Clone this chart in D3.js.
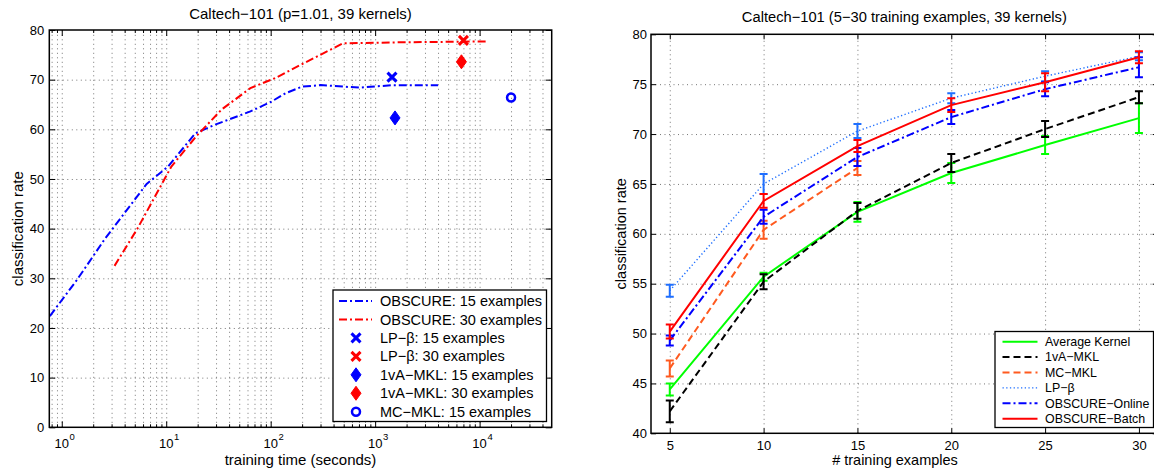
<!DOCTYPE html>
<html>
<head>
<meta charset="utf-8">
<script src="https://cdn.jsdelivr.net/npm/d3@7"></script>
<style>
  body { margin: 0; background: #fff; }
  svg { display: block; }
  text { font-family: "Liberation Sans", Arial, Helvetica, sans-serif; fill: #000; }
</style>
</head>
<body>
<svg id="fig" width="1154" height="473"></svg>
<script>
// ---------- Left panel: accuracy vs. training time (log scale) ----------
const obscure15Time = [0.77, 1.4, 2.6, 6.5, 10.4, 19, 29, 64, 100, 140, 200, 300, 700, 1500, 4000];
const obscure15Rate = [22.4, 29.7, 38.0, 49.0, 52.5, 59.2, 60.9, 63.6, 65.5, 67.3, 68.6, 68.9, 68.4, 68.9, 68.9];
const obscure30Time = [3.2, 5.3, 11.2, 19.2, 34, 64, 110, 207, 490, 1500, 12000];
const obscure30Rate = [32.5, 40.0, 52.5, 58.5, 64.0, 68.3, 70.3, 73.3, 77.3, 77.5, 77.7];

// single-point baselines: [time, rate]
const lpBeta15 = [1450, 70.5];
const lpBeta30 = [7000, 77.9];
const oneVsAll15 = [1550, 62.3];
const oneVsAll30 = [6700, 73.6];
const mcMkl15 = [20000, 66.4];

const leftTicksY = [0, 10, 20, 30, 40, 50, 60, 70, 80];
const leftDecades = [0, 1, 2, 3, 4];
const leftLegendLabels = [
  "OBSCURE: 15 examples", "OBSCURE: 30 examples",
  "LP\u2212\u03b2: 15 examples", "LP\u2212\u03b2: 30 examples",
  "1vA\u2212MKL: 15 examples", "1vA\u2212MKL: 30 examples",
  "MC\u2212MKL: 15 examples"
];

// ---------- Right panel: accuracy vs. number of training examples ----------
const trainSizes = [5, 10, 15, 20, 25, 30];
const avgKernel = [44.4, 55.7, 62.2, 66.1, 68.9, 71.6];
const avgKernelErr = [0.6, 0.4, 1.0, 1.0, 0.9, 1.5];
const oneVsAll = [42.2, 55.2, 62.3, 67.1, 70.5, 73.7];
const oneVsAllErr = [1.1, 0.75, 0.8, 0.9, 0.8, 0.6];
const mcSizes = [5, 10, 15];
const mcMkl = [46.5, 60.4, 66.6];
const mcMklErr = [0.8, 0.9, 0.7];
const lpBeta = [54.3, 65.0, 70.3, 73.6, 75.8, 77.8];
const lpBetaErr = [0.6, 1.0, 0.7, 0.5, 0.5, 0.4];
const obscureOnline = [49.3, 61.7, 67.7, 71.7, 74.5, 76.7];
const obscureOnlineErr = [0.5, 0.7, 0.9, 0.7, 0.7, 1.0];
const obscureBatch = [50.2, 63.3, 68.8, 72.9, 75.2, 77.7];
const obscureBatchErr = [0.7, 0.7, 0.6, 0.7, 0.9, 0.6];

const rightTicksY = [40, 45, 50, 55, 60, 65, 70, 75, 80];
const rightLegendLabels = ["Average Kernel", "1vA\u2212MKL", "MC\u2212MKL", "LP\u2212\u03b2", "OBSCURE\u2212Online", "OBSCURE\u2212Batch"];

// ---------- styling ----------
const BLUE = "#0000ff", RED = "#ff0000", GREEN = "#00ff00", BLACK = "#000000";
const ORANGE = "#ff5a1f", LIGHTBLUE = "#1f6fff";
const DASHDOT = "8,3,2,3";
const GRIDDASH = "1,3.5";
const GRIDCOLOR = "#777";

const svg = d3.select("#fig");

function cleanAxis(sel, size) {
  sel.select(".domain").remove();
  sel.selectAll(".tick line").attr("stroke", "#000").attr("stroke-width", 1);
  sel.selectAll(".tick text").attr("font-size", size).attr("fill", "#000")
     .attr("font-family", '"Liberation Sans", Arial, Helvetica, sans-serif');
}
function gridStyle(sel) {
  sel.select(".domain").remove();
  sel.selectAll(".tick line").attr("stroke", GRIDCOLOR)
     .attr("stroke-dasharray", GRIDDASH).attr("stroke-width", 1);
}

/* ===================== LEFT PANEL ===================== */
{
  const x = d3.scaleLog().domain([0.76, 49000]).range([49.3, 551.7]);
  const y = d3.scaleLinear().domain([0, 80]).range([427.3, 30]);
  const [x0, x1] = x.range(), [y0, y1] = y.range();
  const g = svg.append("g");

  // log grid values (major + minor)
  const gridX = [];
  for (let n = -1; n <= 4; n++) for (let k = 1; k <= 9; k++) {
    const v = k * Math.pow(10, n);
    if (v > x.domain()[0] && v < x.domain()[1]) gridX.push(v);
  }
  const majorX = leftDecades.map(n => Math.pow(10, n));
  const minorX = gridX.filter(v => !majorX.includes(v));

  // dotted grid
  g.append("g").attr("transform", `translate(0,${y0})`)
    .call(d3.axisBottom(x).tickValues(gridX).tickSize(-(y0 - y1)).tickFormat(""))
    .call(gridStyle);
  g.append("g").attr("transform", `translate(${x0},0)`)
    .call(d3.axisLeft(y).tickValues(leftTicksY.slice(1, -1)).tickSize(-(x1 - x0)).tickFormat(""))
    .call(gridStyle);

  // inward ticks on all sides
  g.append("g").attr("transform", `translate(0,${y0})`)
    .call(d3.axisBottom(x).tickValues(majorX).tickSize(-6).tickFormat("")).call(s => cleanAxis(s, 13));
  g.append("g").attr("transform", `translate(0,${y0})`)
    .call(d3.axisBottom(x).tickValues(minorX).tickSize(-3).tickFormat("")).call(s => cleanAxis(s, 13));
  g.append("g").attr("transform", `translate(0,${y1})`)
    .call(d3.axisTop(x).tickValues(majorX).tickSize(-6).tickFormat("")).call(s => cleanAxis(s, 13));
  g.append("g").attr("transform", `translate(0,${y1})`)
    .call(d3.axisTop(x).tickValues(minorX).tickSize(-3).tickFormat("")).call(s => cleanAxis(s, 13));
  g.append("g").attr("transform", `translate(${x0},0)`)
    .call(d3.axisLeft(y).tickValues(leftTicksY).tickSize(-6).tickPadding(5)).call(s => cleanAxis(s, 13));
  g.append("g").attr("transform", `translate(${x1},0)`)
    .call(d3.axisRight(y).tickValues(leftTicksY).tickSize(-6).tickFormat("")).call(s => cleanAxis(s, 13));

  // power-of-ten labels
  const pl = g.append("g").selectAll("g").data(leftDecades).join("g")
    .attr("transform", n => `translate(${x(Math.pow(10, n))},448)`);
  pl.append("text").attr("text-anchor", "middle").attr("font-size", 13).text("10");
  pl.append("text").attr("x", 7.8).attr("y", -8).attr("font-size", 9.5).text(n => n);

  // series lines
  const line = d3.line().x(d => x(d[0])).y(d => y(d[1]));
  g.append("path").datum(d3.zip(obscure15Time, obscure15Rate)).attr("d", line)
    .attr("fill", "none").attr("stroke", BLUE).attr("stroke-width", 2).attr("stroke-dasharray", DASHDOT);
  g.append("path").datum(d3.zip(obscure30Time, obscure30Rate)).attr("d", line)
    .attr("fill", "none").attr("stroke", RED).attr("stroke-width", 2).attr("stroke-dasharray", DASHDOT);

  // marker helpers
  const cross = (sel, cx, cy, c) => sel.append("path")
    .attr("d", `M${cx - 4.5},${cy - 4.5}L${cx + 4.5},${cy + 4.5}M${cx - 4.5},${cy + 4.5}L${cx + 4.5},${cy - 4.5}`)
    .attr("stroke", c).attr("stroke-width", 3).attr("fill", "none");
  const diamond = (sel, cx, cy, c) => sel.append("path")
    .attr("d", `M${cx},${cy - 7}L${cx + 5},${cy}L${cx},${cy + 7}L${cx - 5},${cy}Z`)
    .attr("fill", c).attr("stroke", c).attr("stroke-width", 1);
  const ring = (sel, cx, cy, c) => sel.append("circle").attr("cx", cx).attr("cy", cy).attr("r", 4)
    .attr("fill", "none").attr("stroke", c).attr("stroke-width", 2.5);

  cross(g, x(lpBeta15[0]), y(lpBeta15[1]), BLUE);
  cross(g, x(lpBeta30[0]), y(lpBeta30[1]), RED);
  diamond(g, x(oneVsAll15[0]), y(oneVsAll15[1]), BLUE);
  diamond(g, x(oneVsAll30[0]), y(oneVsAll30[1]), RED);
  ring(g, x(mcMkl15[0]), y(mcMkl15[1]), BLUE);

  // frame
  g.append("rect").attr("x", x0).attr("y", y1).attr("width", x1 - x0).attr("height", y0 - y1)
    .attr("fill", "none").attr("stroke", "#000").attr("stroke-width", 1.5);

  // legend
  const lg = g.append("g");
  lg.append("rect").attr("x", 333).attr("y", 290).attr("width", 213.5).attr("height", 131.5)
    .attr("fill", "#fff").attr("stroke", "#000").attr("stroke-width", 1.3);
  const rowY = i => 301 + i * 18.45;
  const mx = 356;
  lg.append("line").attr("x1", 339).attr("x2", 372).attr("y1", rowY(0)).attr("y2", rowY(0))
    .attr("stroke", BLUE).attr("stroke-width", 2).attr("stroke-dasharray", DASHDOT);
  lg.append("line").attr("x1", 339).attr("x2", 372).attr("y1", rowY(1)).attr("y2", rowY(1))
    .attr("stroke", RED).attr("stroke-width", 2).attr("stroke-dasharray", DASHDOT);
  cross(lg, mx, rowY(2), BLUE);
  cross(lg, mx, rowY(3), RED);
  diamond(lg, mx, rowY(4), BLUE);
  diamond(lg, mx, rowY(5), RED);
  ring(lg, mx, rowY(6), BLUE);
  lg.selectAll("text.lab").data(leftLegendLabels).join("text").attr("class", "lab")
    .attr("x", 380).attr("y", (d, i) => rowY(i)).attr("dy", "0.35em")
    .attr("font-size", 14.5).text(d => d);

  // titles
  g.append("text").attr("x", (x0 + x1) / 2).attr("y", 19).attr("text-anchor", "middle")
    .attr("font-size", 15).text("Caltech\u2212101 (p=1.01, 39 kernels)");
  g.append("text").attr("x", (x0 + x1) / 2).attr("y", 465).attr("text-anchor", "middle")
    .attr("font-size", 15).text("training time (seconds)");
  g.append("text").attr("transform", `translate(23,${(y0 + y1) / 2}) rotate(-90)`)
    .attr("text-anchor", "middle").attr("font-size", 15).text("classification rate");
}

/* ===================== RIGHT PANEL ===================== */
{
  const x = d3.scaleLinear().domain([4, 31]).range([651, 1157.7]);
  const y = d3.scaleLinear().domain([40, 80]).range([433.3, 34.3]);
  const [x0, x1] = x.range(), [y0, y1] = y.range();
  const g = svg.append("g");

  // dotted grid
  g.append("g").attr("transform", `translate(0,${y0})`)
    .call(d3.axisBottom(x).tickValues(trainSizes).tickSize(-(y0 - y1)).tickFormat(""))
    .call(gridStyle);
  g.append("g").attr("transform", `translate(${x0},0)`)
    .call(d3.axisLeft(y).tickValues(rightTicksY.slice(1, -1)).tickSize(-(x1 - x0)).tickFormat(""))
    .call(gridStyle);

  // ticks
  g.append("g").attr("transform", `translate(0,${y0})`)
    .call(d3.axisBottom(x).tickValues(trainSizes).tickSize(-5).tickPadding(7.5)).call(s => cleanAxis(s, 13));
  g.append("g").attr("transform", `translate(0,${y1})`)
    .call(d3.axisTop(x).tickValues(trainSizes).tickSize(-5).tickFormat("")).call(s => cleanAxis(s, 13));
  g.append("g").attr("transform", `translate(${x0},0)`)
    .call(d3.axisLeft(y).tickValues(rightTicksY).tickSize(-5).tickPadding(4)).call(s => cleanAxis(s, 13));
  g.append("g").attr("transform", `translate(${x1},0)`)
    .call(d3.axisRight(y).tickValues(rightTicksY).tickSize(-5).tickFormat("")).call(s => cleanAxis(s, 13));

  const series = [
    { xs: trainSizes, m: avgKernel, e: avgKernelErr, c: GREEN, w: 2, dash: null },
    { xs: trainSizes, m: oneVsAll, e: oneVsAllErr, c: BLACK, w: 2, dash: "7,4" },
    { xs: mcSizes, m: mcMkl, e: mcMklErr, c: ORANGE, w: 2, dash: "7,4" },
    { xs: trainSizes, m: lpBeta, e: lpBetaErr, c: LIGHTBLUE, w: 1.4, dash: "1.3,2.4" },
    { xs: trainSizes, m: obscureOnline, e: obscureOnlineErr, c: BLUE, w: 2, dash: DASHDOT },
    { xs: trainSizes, m: obscureBatch, e: obscureBatchErr, c: RED, w: 2, dash: null }
  ];
  const line = d3.line().x(d => x(d[0])).y(d => y(d[1]));
  series.forEach(s => {
    const pts = d3.zip(s.xs, s.m, s.e);
    const sg = g.append("g");
    sg.append("path").datum(pts).attr("d", line).attr("fill", "none")
      .attr("stroke", s.c).attr("stroke-width", s.w).attr("stroke-dasharray", s.dash);
    const eb = sg.selectAll("g").data(pts).join("g");
    eb.append("path")
      .attr("d", d => {
        const cx = x(d[0]), lo = y(d[1] - d[2]), hi = y(d[1] + d[2]);
        return `M${cx},${lo}L${cx},${hi}M${cx - 4},${lo}L${cx + 4},${lo}M${cx - 4},${hi}L${cx + 4},${hi}`;
      })
      .attr("fill", "none").attr("stroke", s.c).attr("stroke-width", 2);
  });

  // frame (right edge runs past the canvas)
  g.append("rect").attr("x", x0).attr("y", y1).attr("width", x1 - x0).attr("height", y0 - y1)
    .attr("fill", "none").attr("stroke", "#000").attr("stroke-width", 1.5);

  // legend
  const lg = g.append("g");
  lg.append("rect").attr("x", 995).attr("y", 331.5).attr("width", 158.5).attr("height", 96)
    .attr("fill", "#fff").attr("stroke", "#000").attr("stroke-width", 1.3);
  const rowY = i => 341.7 + i * 15.4;
  lg.selectAll("line").data(series).join("line")
    .attr("x1", 1002.5).attr("x2", 1037.5).attr("y1", (d, i) => rowY(i)).attr("y2", (d, i) => rowY(i))
    .attr("stroke", d => d.c).attr("stroke-width", d => d.w).attr("stroke-dasharray", d => d.dash);
  lg.selectAll("text").data(rightLegendLabels).join("text")
    .attr("x", 1045).attr("y", (d, i) => rowY(i)).attr("dy", "0.35em")
    .attr("font-size", 12.4).text(d => d);

  // titles
  g.append("text").attr("x", (x0 + x1) / 2).attr("y", 22).attr("text-anchor", "middle")
    .attr("font-size", 14.7).text("Caltech\u2212101 (5\u221230 training examples, 39 kernels)");
  g.append("text").attr("x", 895).attr("y", 465).attr("text-anchor", "middle")
    .attr("font-size", 14.5).text("# training examples");
  g.append("text").attr("transform", `translate(626,${(y0 + y1) / 2}) rotate(-90)`)
    .attr("text-anchor", "middle").attr("font-size", 14.5).text("classification rate");
}
</script>
</body>
</html>
